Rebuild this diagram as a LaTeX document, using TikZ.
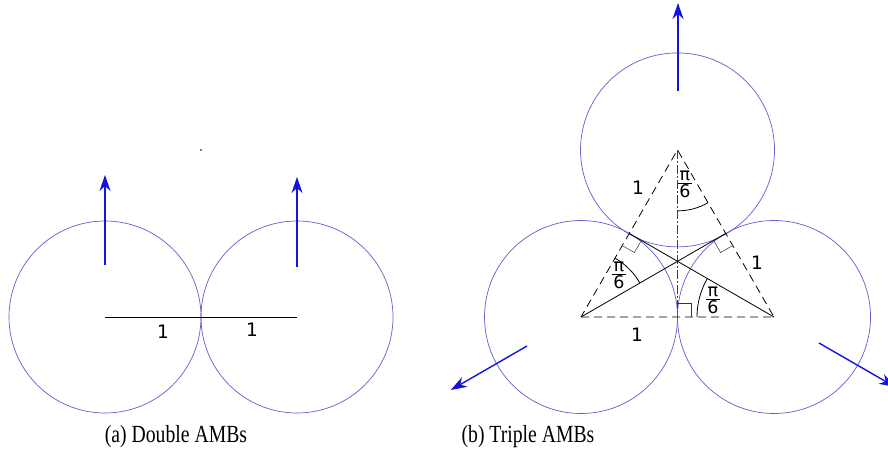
\documentclass[tikz,border=0pt]{standalone}
\usepackage{fontspec}
\usepackage{graphicx}
\setmainfont{Liberation Serif}
\newfontfamily\lblfont{DejaVu Sans}
\usetikzlibrary{arrows.meta,calc}
\definecolor{circblue}{RGB}{95,95,205}
\definecolor{arrblue}{RGB}{20,20,225}
\newcommand\pisixth{\begin{tabular}{@{\hspace{1.5pt}}c@{\hspace{1.5pt}}}π\\[-3pt]\hline\rule{0pt}{14pt}6\end{tabular}}
\begin{document}
\begin{tikzpicture}[x=1pt,y=-1pt,
  ring/.style={draw=circblue,line width=0.7pt},
  push/.style={draw=arrblue,line width=1.4pt,-{Stealth[length=16pt,width=11pt,inset=5pt]}},
  sideline/.style={line width=0.8pt,dash pattern=on 8pt off 5pt},
  midline/.style={line width=0.8pt,black!75,dash pattern=on 9pt off 2pt on 2pt off 2pt},
  plainline/.style={line width=0.8pt},
  marker/.style={line width=0.5pt,black!80},
  anglearc/.style={line width=0.8pt},
  lbl/.style={font=\lblfont\fontsize{18.5}{20}\selectfont,inner sep=0pt},
  fraclbl/.style={font=\lblfont\fontsize{17.5}{18}\selectfont,inner sep=0pt},
  captext/.style={font=\fontsize{19.7}{22}\selectfont,inner sep=0pt,anchor=base}]
\useasboundingbox (0,0) rectangle (888,460);
% ---------- (a) ----------
\coordinate (P1) at (105,317);
\coordinate (P2) at (297,317);
\draw[ring] (P1) circle (96);
\draw[ring] (P2) circle (96);
\draw[plainline] (P1) -- (P2);
\node[lbl] (la) at (163,332) {1};
\node[lbl] (lb) at (252,330) {1};
\coordinate (a1t) at (105,265); \coordinate (a1h) at (105,175);
\coordinate (a2t) at (297,267); \coordinate (a2h) at (297,177);
\draw[push] (a1t) -- (a1h);
\draw[push] (a2t) -- (a2h);
\fill[gray] (200.3,149.3) rectangle (202,151);
\node[captext] (capa) at (176,442) {\scalebox{1}[1.25]{(a) Double AMBs}};
% ---------- (b) ----------
\coordinate (A) at (581,317);
\coordinate (B) at (774,317);
\coordinate (C) at (677.5,149.9);
\coordinate (M1) at ($(A)!0.5!(C)$);
\coordinate (M2) at ($(B)!0.5!(C)$);
\coordinate (M3) at ($(A)!0.5!(B)$);
\draw[ring] (A) circle (96.5);
\draw[ring] (B) circle (96.5);
\draw[ring] (C) circle (97);
\draw[sideline] (A) -- (B) -- (C) -- cycle;
\draw[midline] (C) -- (M3);
\draw[plainline] (A) -- (M2);
\draw[plainline] (B) -- (M1);
% right angle marks
\coordinate (u1) at ($(M1)!14pt!(A)$); \coordinate (v1) at ($(M1)!14pt!(B)$);
\draw[marker] (u1) -- ($(u1)+(v1)-(M1)$) -- (v1);
\coordinate (u2) at ($(M2)!14pt!(B)$); \coordinate (v2) at ($(M2)!14pt!(A)$);
\draw[marker] (u2) -- ($(u2)+(v2)-(M2)$) -- (v2);
\coordinate (u3) at ($(M3)!14pt!(C)$); \coordinate (v3) at ($(M3)!14pt!(B)$);
\draw[marker] (u3) -- ($(u3)+(v3)-(M3)$) -- (v3);
% angle arcs
\draw[anglearc] ([shift={(90:61)}]C) arc (90:60:61);
\draw[anglearc] ([shift={(-60:68)}]A) arc (-60:-30:68);
\draw[anglearc] ([shift={(180:77)}]B) arc (180:210:77);
\node[fraclbl] (fc) at (685,185) {\pisixth};
\node[fraclbl] (fa) at (619,276) {\pisixth};
\node[fraclbl] (fb) at (713,301) {\pisixth};
\node[lbl] (lc) at (638,188) {1};
\node[lbl] (ld) at (757,263) {1};
\node[lbl] (le) at (637,335) {1};
% arrows
\coordinate (b1t) at (678,91); \coordinate (b1h) at (678,3);
\coordinate (b2t) at (527,346); \coordinate (b2h) at ($(b2t)+(150:88)$);
\coordinate (b3t) at (819,343); \coordinate (b3h) at ($(b3t)+(30:88)$);
\draw[push] (b1t) -- (b1h);
\draw[push] (b2t) -- (b2h);
\draw[push] (b3t) -- (b3h);
\node[captext] (capb) at (528,442) {\scalebox{1}[1.25]{(b) Triple AMBs}};
\end{tikzpicture}
\end{document}
